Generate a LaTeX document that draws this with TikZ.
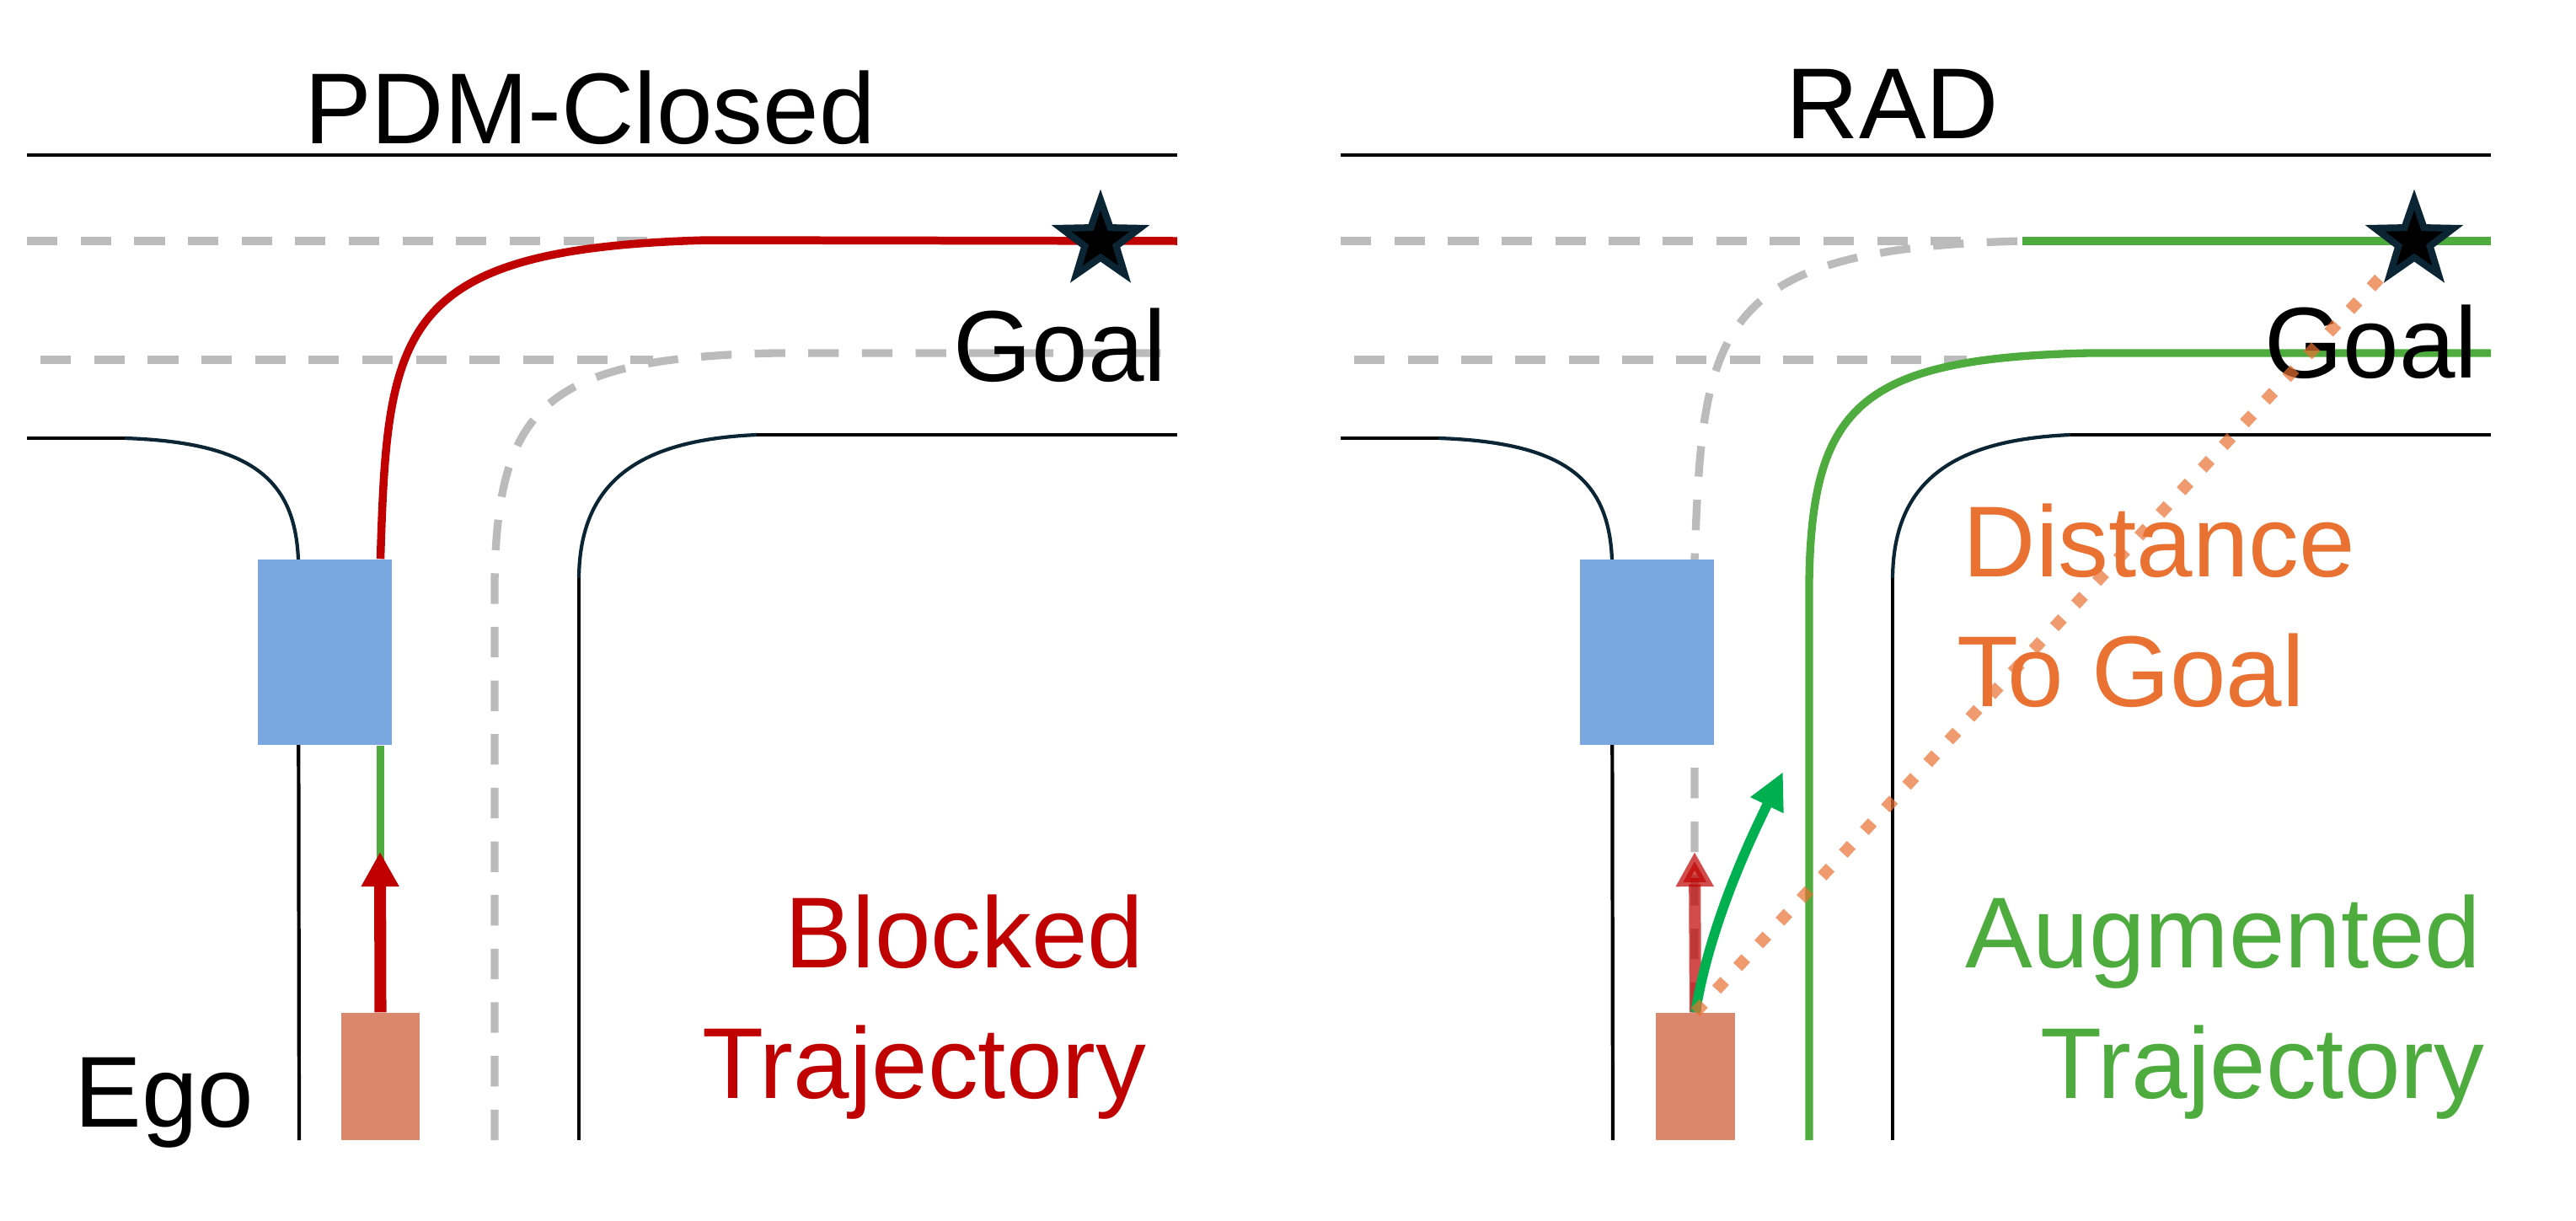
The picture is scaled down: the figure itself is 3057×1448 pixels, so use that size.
\documentclass[tikz,border=0pt]{standalone}
\usepackage{fontspec}
\setmainfont{Liberation Sans}
\usetikzlibrary{arrows.meta}
\usetikzlibrary{shapes.geometric}

\definecolor{carblue}{RGB}{123,167,224}
\definecolor{egosalmon}{RGB}{218,135,110}
\definecolor{trajred}{RGB}{192,0,0}
\definecolor{trajgreen}{RGB}{78,172,62}
\definecolor{arrowgreen}{RGB}{0,176,80}
\definecolor{distorange}{RGB}{233,113,50}
\definecolor{roadnavy}{RGB}{12,37,52}
\definecolor{lanegray}{RGB}{187,187,187}

\begin{document}
\begin{tikzpicture}
[x=0.01cm,y=-0.01cm,%
  road/.style={line width=1.2pt},%
  roadcurve/.style={road,draw=roadnavy},%
  lane/.style={draw=lanegray,line width=2.65pt,dash pattern=on 10.3pt off 7.8pt},%
  blocktraj/.style={draw=trajred,line width=2.7pt},%
  augtraj/.style={draw=trajgreen,line width=2.65pt},%
  obstacle/.style={rectangle,fill=carblue,inner sep=0,minimum width=1.59cm,minimum height=2.2cm},%
  egocar/.style={rectangle,fill=egosalmon,inner sep=0,minimum width=0.93cm,minimum height=1.51cm},%
  blockarrow/.style={draw=trajred,line width=4pt,-{Triangle[length=11.7pt,width=12pt]}},%
  augarrow/.style={draw=arrowgreen,line width=3.3pt,-{Triangle[length=12.5pt,width=11.5pt]}},%
  distline/.style={draw=distorange,draw opacity=0.7,line width=4pt,dash pattern=on 4pt off 6.45pt},%
  goalstar/.style={star,star points=5,star point ratio=2.5,fill=black,draw=roadnavy,line width=2.3pt,inner sep=0,minimum size=0.98cm},%
  lbl/.style={inner sep=0,font=\fontsize{34}{40}\selectfont}]
\useasboundingbox (0,0) rectangle (3057,1448);

% roads, same in both panels
\foreach \dx in {0,1559}{
  \begin{scope}[shift={(\dx,0)}]
    \draw[road,line width=1.4pt] (32,184) -- (1397,184);
    \draw[lane] (32,286) -- (775,286);
    \draw[lane] (48,427) -- (775,427);
    \draw[road] (32,520) -- (148,520);
    \draw[roadcurve] (148,520) .. controls (300,525) and (350,570) .. (354,664);
    \draw[road] (354,664) -- (355,1353);
    \draw[road] (1397,516) -- (898,516);
    \draw[roadcurve] (898,516) .. controls (760,522) and (688,570) .. (687,686);
    \draw[road] (687,686) -- (687,1353);
  \end{scope}
}

% lanes and trajectories
\draw[lane] (587,1353) -- (587,690) .. controls (590,480) and (650,425) .. (919,419) -- (1397,419);
\draw[lane] (2011,1202) -- (2011,664) .. controls (2021,390) and (2031,295) .. (2400,286);
\draw[augtraj] (2147,1353) -- (2147,690) .. controls (2150,480) and (2210,425) .. (2479,419) -- (2956,419);
\draw[augtraj] (2400,286) -- (2956,286);

% cars
\node[obstacle] (carL) at (385.5,774) {};
\node[obstacle] (carR) at (1954.5,774) {};
\node[egocar] (egoL) at (451.5,1277.5) {};
\node[egocar] (egoR) at (2012,1277.5) {};

\draw[blocktraj] (egoL.north |- carL.north) .. controls (460,390) and (470,295) .. (839,285) -- (1397,286);
\draw[augtraj] (egoL.north |- carL.south) -- (egoL.north);

% arrows
\coordinate (blockedtipL) at (451,1011);
\coordinate (blockedtipR) at (2011,1011);
\coordinate (augtip) at (2116,916);
\draw[blockarrow] (egoL.north) -- (blockedtipL);
\draw[blockarrow,opacity=0.7] (egoR.north) -- (blockedtipR);
\draw[augarrow] (egoR.north) .. controls (2030,1090) and (2085,980) .. (augtip);

% labels
\node[lbl,anchor=base] (titleL) at (700,170) {PDM-Closed};
\node[lbl,anchor=base] (titleR) at (2246,164) {RAD};
\node[lbl,anchor=base east] (goaltxtL) at (1385,452) {Goal};
\node[lbl,anchor=base east] (goaltxtR) at (2941,448) {Goal};
\node[lbl,anchor=base west] (egotxt) at (88,1337) {Ego};
\node[lbl,anchor=base east,text=trajred] (blockedA) at (1358,1148) {Blocked};
\node[lbl,anchor=base east,text=trajred] (blockedB) at (1361,1303) {Trajectory};
\node[lbl,anchor=base west,text=distorange] (distA) at (2329,684) {Distance};
\node[lbl,anchor=base west,text=distorange] (distB) at (2322,838) {To Goal};
\node[lbl,anchor=base east,text=trajgreen] (augA) at (2945,1148) {Augmented};
\node[lbl,anchor=base east,text=trajgreen] (augB) at (2949,1303) {Trajectory};

% goals
\node[goalstar] (goalL) at (1306,286) {};
\node[goalstar] (goalR) at (2865,286) {};
\draw[distline] (egoR.north) -- (goalR);
\end{tikzpicture}
\end{document}
